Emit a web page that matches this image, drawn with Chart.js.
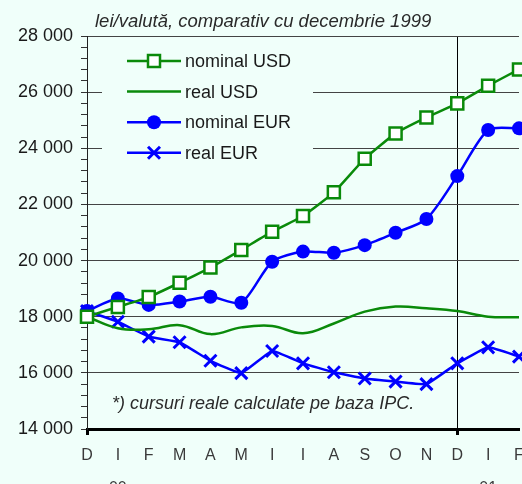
<!DOCTYPE html>
<html>
<head>
<meta charset="utf-8">
<script src="https://cdn.jsdelivr.net/npm/chart.js@4.4.0/dist/chart.umd.min.js"></script>
<style>
  html, body { margin: 0; padding: 0; background: #F0FFFA; }
  #wrap { width: 522px; height: 484px; }
</style>
</head>
<body>
<div id="wrap"><canvas id="myChart" width="522" height="484"></canvas></div>
<script>
// luni: dec 1999 - feb 2001
var months = ["D", "I", "F", "M", "A", "M", "I", "I", "A", "S", "O", "N", "D", "I", "F"];
var years = ["", "00", "", "", "", "", "", "", "", "", "", "", "", "01", ""];

// lei/valuta
var nominalUSD = [18000, 18350, 18700, 19210, 19750, 20380, 21030, 21590, 22430, 23630, 24530, 25100, 25600, 26230, 26810];
var realUSD = [18000, 17590, 17550, 17700, 17380, 17620, 17670, 17410, 17760, 18180, 18360, 18300, 18200, 18000, 17980];
var nominalEUR = [18200, 18650, 18420, 18540, 18710, 18500, 19960, 20320, 20280, 20550, 20990, 21480, 23010, 24650, 24710];
var realEUR = [18200, 17820, 17290, 17090, 16430, 15990, 16780, 16340, 16020, 15800, 15690, 15600, 16340, 16910, 16580];

var seriesNames = ["nominal USD", "real USD", "nominal EUR", "real EUR"];
var titleText = "lei/valută, comparativ cu decembrie 1999";
var noteText = "*) cursuri reale calculate pe baza IPC.";

var BG = "#F0FFFA";
var GREEN = "#0A8A0A";
var BLUE = "#0000FF";
var FONT = "'Liberation Sans', Arial, Helvetica, sans-serif";

function fmt(v) {
  return String(v).replace(/\B(?=(\d{3})+(?!\d))/g, " ");
}

// titlu, nota, legenda si etichetele lunilor
var extras = {
  id: "extras",
  afterLayout: function(chart) {
    // zona graficului pana aproape de marginea din dreapta
    var xs = chart.scales.x;
    var right = chart.width - 3;
    chart.chartArea.right = right;
    chart.chartArea.width = right - chart.chartArea.left;
    xs.right = right;
    xs.width = right - xs.left;
    if (typeof xs.configure === "function") xs.configure();
  },
  beforeDatasetsDraw: function(chart) {
    var ctx = chart.ctx;
    ctx.save();
    // cutia legendei acopera liniile de grila
    ctx.fillStyle = BG;
    ctx.fillRect(102, 40, 211, 132);

    var items = chart.data.datasets;
    for (var i = 0; i < items.length; i++) {
      var ds = items[i];
      var y = 61 + i * 30.6;
      ctx.strokeStyle = ds.borderColor;
      ctx.lineWidth = 2.5;
      ctx.beginPath();
      ctx.moveTo(127, y);
      ctx.lineTo(181, y);
      ctx.stroke();
      var x = 154;
      if (ds.pointStyle === "rect") {
        ctx.fillStyle = "#fff";
        ctx.fillRect(x - 6, y - 6, 12, 12);
        ctx.strokeRect(x - 6, y - 6, 12, 12);
      } else if (ds.pointStyle === "circle") {
        ctx.fillStyle = ds.borderColor;
        ctx.beginPath();
        ctx.arc(x, y, 7, 0, Math.PI * 2);
        ctx.fill();
      } else if (ds.pointStyle === "crossRot") {
        ctx.lineWidth = 3;
        ctx.beginPath();
        ctx.moveTo(x - 6, y - 6); ctx.lineTo(x + 6, y + 6);
        ctx.moveTo(x + 6, y - 6); ctx.lineTo(x - 6, y + 6);
        ctx.stroke();
      }
      ctx.fillStyle = "#1a1a1a";
      ctx.font = "18px " + FONT;
      ctx.textBaseline = "middle";
      ctx.textAlign = "left";
      ctx.fillText(ds.label, 185, y + 1);
    }

    ctx.fillStyle = "#2a2a2a";
    ctx.font = "italic 18px " + FONT;
    ctx.fillText(noteText, 112, 404);
    ctx.restore();
  },
  afterDraw: function(chart) {
    var ctx = chart.ctx;
    var xs = chart.scales.x;
    ctx.save();
    ctx.fillStyle = "#2a2a2a";
    ctx.font = "italic 18.5px " + FONT;
    ctx.textBaseline = "middle";
    ctx.fillText(titleText, 95, 22);

    // etichete axa X: luna si anul dedesubt
    ctx.fillStyle = "#3a3a3a";
    ctx.font = "16px " + FONT;
    ctx.textAlign = "center";
    for (var i = 0; i < months.length; i++) {
      var px = xs.getPixelForValue(i);
      ctx.fillText(months[i], px, xs.top + 27);
      if (years[i]) ctx.fillText(years[i], px, xs.top + 60);
    }
    ctx.restore();
  }
};

var ctx = document.getElementById("myChart").getContext("2d");
new Chart(ctx, {
  type: "line",
  data: {
    labels: months,
    datasets: [
      {
        label: seriesNames[0],
        data: nominalUSD,
        borderColor: GREEN,
        borderWidth: 2.5,
        tension: 0.15,
        pointStyle: "rect",
        pointRadius: 8.5,
        pointBorderWidth: 2.5,
        pointBackgroundColor: "#fff",
        pointBorderColor: GREEN
      },
      {
        label: seriesNames[1],
        data: realUSD,
        borderColor: GREEN,
        borderWidth: 2.5,
        tension: 0.4,
        pointRadius: 0,
        pointStyle: false
      },
      {
        label: seriesNames[2],
        data: nominalEUR,
        borderColor: BLUE,
        borderWidth: 2.5,
        tension: 0.25,
        pointStyle: "circle",
        pointRadius: 7,
        pointBorderWidth: 0,
        pointBackgroundColor: BLUE
      },
      {
        label: seriesNames[3],
        data: realEUR,
        borderColor: BLUE,
        borderWidth: 2.5,
        tension: 0.1,
        pointStyle: "crossRot",
        pointRadius: 8.5,
        pointBorderWidth: 3,
        pointBorderColor: BLUE
      }
    ]
  },
  options: {
    responsive: false,
    animation: false,
    clip: false,
    layout: { padding: { top: 36, right: 3, left: 0, bottom: 0 } },
    plugins: { legend: { display: false }, tooltip: { enabled: false } },
    scales: {
      x: {
        offset: false,
        afterFit: function(scale) {
          scale.height = 55;
          scale.paddingLeft = 0;
          scale.paddingRight = 0;
        },
        border: { display: true, color: "#000", width: 3 },
        grid: {
          color: function(c) { return c.index === 12 ? "#000" : "transparent"; },
          tickColor: function(c) { return (c.index === 0 || c.index === 12) ? "#000" : "transparent"; },
          tickWidth: 3,
          tickLength: 6,
          lineWidth: 1
        },
        ticks: { display: false, autoSkip: false, maxRotation: 0, padding: 0 }
      },
      y: {
        min: 14000,
        max: 28000,
        afterFit: function(scale) { scale.width = 87; },
        border: { display: true, color: "#222", width: 1 },
        grid: {
          color: function(c) { return c.tick && c.tick.value % 2000 === 0 ? "#444" : "transparent"; },
          tickColor: "#333",
          tickLength: 6,
          lineWidth: 1
        },
        ticks: {
          stepSize: 400,
          maxTicksLimit: 40,
          autoSkip: false,
          padding: 8,
          color: "#1a1a1a",
          font: { family: FONT, size: 18 },
          callback: function(v) { return v % 2000 === 0 ? fmt(v) : ""; }
        }
      }
    }
  },
  plugins: [extras]
});
</script>
</body>
</html>
